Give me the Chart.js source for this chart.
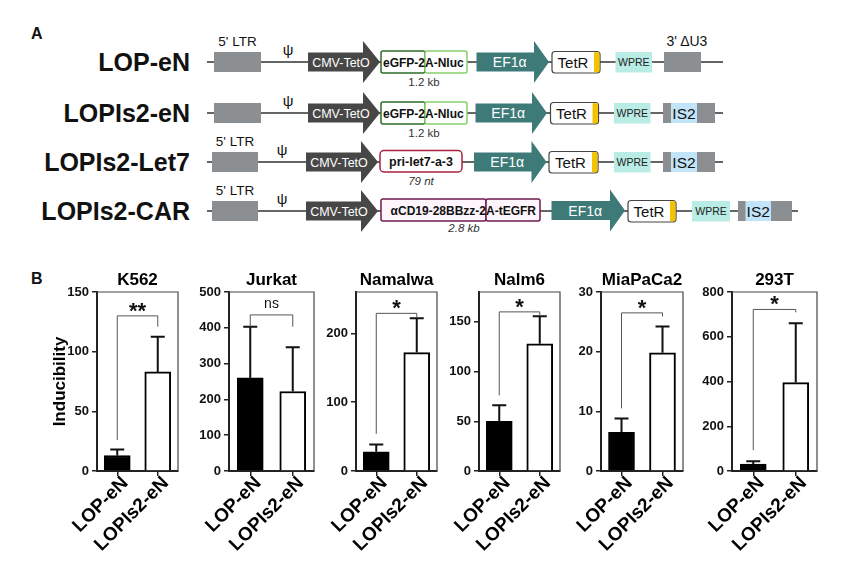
<!DOCTYPE html>
<html>
<head>
<meta charset="utf-8">
<script src="https://cdn.jsdelivr.net/npm/chart.js@4.4.1/dist/chart.umd.min.js"></script>
<style>
  body { margin: 0; background: #fff; }
  #fig { position: relative; width: 864px; height: 573px; overflow: hidden; font-family: 'Liberation Sans', Arial, sans-serif; }
  #fig canvas, #fig svg { position: absolute; }
</style>
</head>
<body>
<div id="fig">
  <svg id="schema" width="864" height="300" style="left:0;top:0"></svg>
</div>
<script>
// panel B data
var cellLines = ['K562', 'Jurkat', 'Namalwa', 'Nalm6', 'MiaPaCa2', '293T'];
var vectors = ['LOP-eN', 'LOPIs2-eN'];
var meanLOP = [13, 260, 28, 50, 6.5, 31];
var meanLOPIs2 = [83, 222, 172, 128, 19.8, 395];
var sdLOP = [5, 143, 10.5, 16, 2.3, 13];
var sdLOPIs2 = [29.5, 124, 50, 27.5, 4.4, 265];
var yMax = [150, 500, 260, 180, 30, 800];
var yStep = [50, 100, 100, 50, 10, 200];
var sigLabel = ['**', 'ns', '*', '*', '*', '*'];
var bracketTop = [130, 436, 229, 160, 26.5, 722];
var bracketLeftEnd = [26, 403, 54, 76, 10.5, 93];
var bracketRightEnd = [121, 403, 223, 156, 25.9, 709];

// where each plot sits in the figure
var axisLeft = [97, 229, 356, 479, 601, 732];
var plotWidth = [81, 85, 81, 81, 82, 85];

var FONT = "'Liberation Sans', Arial, sans-serif";
Chart.defaults.font.family = FONT;

// ---------- panel A: construct schematic ----------
var svg = '';
function t(x, y, s, size, o) {
  o = o || {};
  svg += '<text x="' + x + '" y="' + y + '" font-size="' + size + '" text-anchor="' + (o.anchor || 'middle') +
    '" fill="' + (o.fill || '#111') + '"' + (o.bold ? ' font-weight="bold"' : '') +
    (o.italic ? ' font-style="italic"' : '') + ' font-family="' + FONT.replace(/'/g, '') + '">' + s + '</text>';
}
function r(x, y, w, h, fill, stroke, sw, rx) {
  svg += '<rect x="' + x + '" y="' + y + '" width="' + w + '" height="' + h + '" fill="' + fill + '"' +
    (stroke ? ' stroke="' + stroke + '" stroke-width="' + (sw || 1.3) + '"' : '') + (rx ? ' rx="' + rx + '"' : '') + '/>';
}
function line(x1, x2, y) {
  svg += '<line x1="' + x1 + '" y1="' + y + '" x2="' + x2 + '" y2="' + y + '" stroke="#333" stroke-width="1.5"/>';
}
function arrow(x0, xh, xt, cy, fill) {
  svg += '<polygon fill="' + fill + '" points="' + [x0, cy - 9.5, xh, cy - 9.5, xh, cy - 21, xt, cy, xh, cy + 21,
    xh, cy + 9.5, x0, cy + 9.5].join(' ') + '"/>';
}
function cmv(x0, cy) { arrow(x0, x0 + 55, x0 + 72, cy, '#474747'); t(x0 + 33, cy + 4.5, 'CMV-TetO', 12.5, {fill: '#fff'}); }
function ef1(x0, xh, xt, cy) { arrow(x0, xh, xt, cy, '#3d7a78'); t((x0 + xt) / 2 - 3, cy + 5, 'EF1α', 14, {fill: '#fff'}); }
function tetr(x0, x1, cy) {
  r(x0, cy - 10.5, x1 - x0, 21.5, '#fff', '#444', 1.2, 3);
  r(x1 - 6, cy - 9.8, 5.4, 20, '#f4c300');
  t((x0 + x1 - 6) / 2, cy + 5.5, 'TetR', 15);
}
function wpre(x0, x1, cy) { r(x0, cy - 10, x1 - x0, 20.5, '#b8ece4'); t((x0 + x1) / 2, cy + 4, 'WPRE', 10.5, {fill: '#222'}); }
function is2(x0, x1, x2, x3, cy) {
  r(x0, cy - 10, x3 - x0, 20, '#8c8f92');
  r(x1, cy - 10, x2 - x1, 20, '#c2e4f8');
  t((x1 + x2) / 2, cy + 5.5, 'IS2', 15.5);
}
function ltr(x0, w, cy, label) { r(x0, cy - 10, w, 20, '#8c8f92'); if (label) t(x0 + w / 2, cy - 16, "5' LTR", 13.5); }
function psi(x, cy) { t(x, cy - 7, 'ψ', 15); }
function split(x0, xs, x1, cy, cl, cr, fill, left, right) {
  r(x0, cy - 11, xs - x0, 22, fill, cl, 1.5, 2);
  r(xs, cy - 11, x1 - xs, 22, fill, cr, 1.5, 2);
  t(xs, cy + 4.5, left, 12, {anchor: 'end', bold: true});
  t(xs, cy + 4.5, right, 12, {anchor: 'start', bold: true});
}

t(31, 38.5, 'A', 16, {anchor: 'start', bold: true});
t(31, 283.5, 'B', 16, {anchor: 'start', bold: true});
var rowNames = ['LOP-eN', 'LOPIs2-eN', 'LOPIs2-Let7', 'LOPIs2-CAR'];
var rowY = [62, 113, 162, 211];
rowNames.forEach(function (n, k) { t(190, rowY[k] + 9, n, 25, {anchor: 'end', bold: true}); });

// row 1
line(207, 723, 62);
ltr(214, 47, 62, true); psi(288, 62); cmv(308, 62);
split(381, 425, 467, 62, '#2f6b2a', '#86cf6a', '#fff', 'eGFP-2', 'A-Nluc');
t(424, 86, '1.2 kb', 11.5, {fill: '#333'});
ef1(476.5, 534, 549, 62); tetr(552, 600, 62); wpre(615.5, 652, 62);
r(664, 52, 37, 20, '#8c8f92'); t(687, 46, "3' ΔU3", 14);
// row 2
line(207, 723, 113);
ltr(214, 47, 113, false); psi(288, 113); cmv(308, 113);
split(381, 425, 467, 113, '#2f6b2a', '#86cf6a', '#fff', 'eGFP-2', 'A-Nluc');
t(424, 137, '1.2 kb', 11.5, {fill: '#333'});
ef1(475.5, 532, 547, 113); tetr(550.5, 598.5, 113); wpre(614, 650.5, 113); is2(663, 671, 697, 715, 113);
// row 3
line(207, 723, 162);
ltr(212, 46, 162, true); psi(282, 162); cmv(306, 162);
r(380, 150.5, 82, 21.5, '#fff', '#a8223f', 1.5, 4); t(421, 166, 'pri-let7-a-3', 12.5, {bold: true});
t(421, 185, '79 nt', 11.5, {italic: true, fill: '#333'});
ef1(474, 531.5, 546.5, 162); tetr(549, 598, 162); wpre(614, 650.5, 162); is2(663, 671, 697, 715, 162);
// row 4
line(207, 798, 211);
ltr(212, 46, 211, true); psi(282, 211); cmv(306, 211);
split(381, 486, 540, 210, '#6d1b4f', '#6d1b4f', '#fdf5fb', 'αCD19-28BBzz-2', 'A-tEGFR');
t(464, 232, '2.8 kb', 11.5, {italic: true, fill: '#333'});
ef1(551.5, 610, 625, 210.5); tetr(628, 676, 211); wpre(692, 730, 211); is2(738, 745.5, 771, 792, 211);

document.getElementById('schema').innerHTML = svg;

// ---------- panel B: bar charts ----------
var extras = {
  id: 'extras',
  afterDatasetsDraw: function (chart, args, opts) {
    var i = opts.index, ctx = chart.ctx, a = chart.chartArea;
    var x = chart.scales.x, y = chart.scales.y;
    ctx.save();
    // box frame
    ctx.strokeStyle = '#444';
    ctx.lineWidth = 1.2;
    ctx.beginPath();
    ctx.moveTo(a.left, a.top); ctx.lineTo(a.right, a.top); ctx.lineTo(a.right, a.bottom);
    ctx.stroke();
    // error bars (upper only)
    var means = [meanLOP[i], meanLOPIs2[i]], sds = [sdLOP[i], sdLOPIs2[i]];
    ctx.strokeStyle = '#111';
    ctx.lineWidth = 2;
    means.forEach(function (m, k) {
      var px = x.getPixelForValue(k), y0 = y.getPixelForValue(m), y1 = y.getPixelForValue(m + sds[k]);
      ctx.beginPath();
      ctx.moveTo(px, y0); ctx.lineTo(px, y1);
      ctx.moveTo(px - 7, y1); ctx.lineTo(px + 7, y1);
      ctx.stroke();
    });
    // significance bracket
    var xl = x.getPixelForValue(0), xr = x.getPixelForValue(1), yt = y.getPixelForValue(bracketTop[i]);
    ctx.strokeStyle = '#555';
    ctx.lineWidth = 1;
    ctx.beginPath();
    ctx.moveTo(xl, y.getPixelForValue(bracketLeftEnd[i]));
    ctx.lineTo(xl, yt); ctx.lineTo(xr, yt);
    ctx.lineTo(xr, y.getPixelForValue(bracketRightEnd[i]));
    ctx.stroke();
    ctx.fillStyle = '#111';
    ctx.textAlign = 'center';
    ctx.textBaseline = 'alphabetic';
    if (sigLabel[i] === 'ns') {
      ctx.font = '14px ' + FONT;
      ctx.fillText('ns', (xl + xr) / 2, yt - 7);
    } else {
      ctx.font = 'bold 22px ' + FONT;
      ctx.fillText(sigLabel[i], (xl + xr) / 2, yt + 2);
    }
    // panel title
    ctx.font = 'bold 17px ' + FONT;
    ctx.fillStyle = '#000';
    ctx.fillText(cellLines[i], (a.left + a.right) / 2, a.top - 7);
    ctx.restore();
  }
};

cellLines.forEach(function (name, i) {
  var yW = i === 0 ? 47 : 40;
  var cv = document.createElement('canvas');
  cv.width = yW + plotWidth[i] + 4;
  cv.height = 309;
  cv.style.left = (axisLeft[i] - yW) + 'px';
  cv.style.top = '262px';
  document.getElementById('fig').appendChild(cv);

  new Chart(cv.getContext('2d'), {
    type: 'bar',
    data: {
      labels: vectors,
      datasets: [{
        data: [meanLOP[i], meanLOPIs2[i]],
        backgroundColor: ['#000', '#fff'],
        borderColor: '#000',
        borderWidth: 2,
        barThickness: 26
      }]
    },
    options: {
      responsive: false,
      animation: false,
      layout: { padding: { top: 30, right: 4, left: 0, bottom: 0 } },
      plugins: {
        legend: { display: false },
        tooltip: { enabled: false },
        extras: { index: i }
      },
      scales: {
        x: {
          grid: { drawOnChartArea: false, offset: false, tickLength: 5, color: '#222', lineWidth: 1.5 },
          border: { color: '#222', width: 2 },
          ticks: {
            autoSkip: false, minRotation: 45, maxRotation: 45, padding: -4, labelOffset: 8, color: '#000',
            font: { size: 19, weight: 'bold' }
          },
          afterFit: function (s) { s.height = 100; }
        },
        y: {
          min: 0,
          max: yMax[i],
          ticks: { stepSize: yStep[i], includeBounds: false, padding: 3, color: '#111', font: { size: 13, weight: 'bold' } },
          grid: { drawOnChartArea: false, tickLength: 5, color: '#222', lineWidth: 1.5 },
          border: { color: '#222', width: 2 },
          title: { display: i === 0, text: 'Inducibility', padding: 0, color: '#000', font: { size: 17, weight: 'bold' } },
          afterFit: function (s) { s.width = yW; }
        }
      }
    },
    plugins: [extras]
  });
});
</script>
</body>
</html>
